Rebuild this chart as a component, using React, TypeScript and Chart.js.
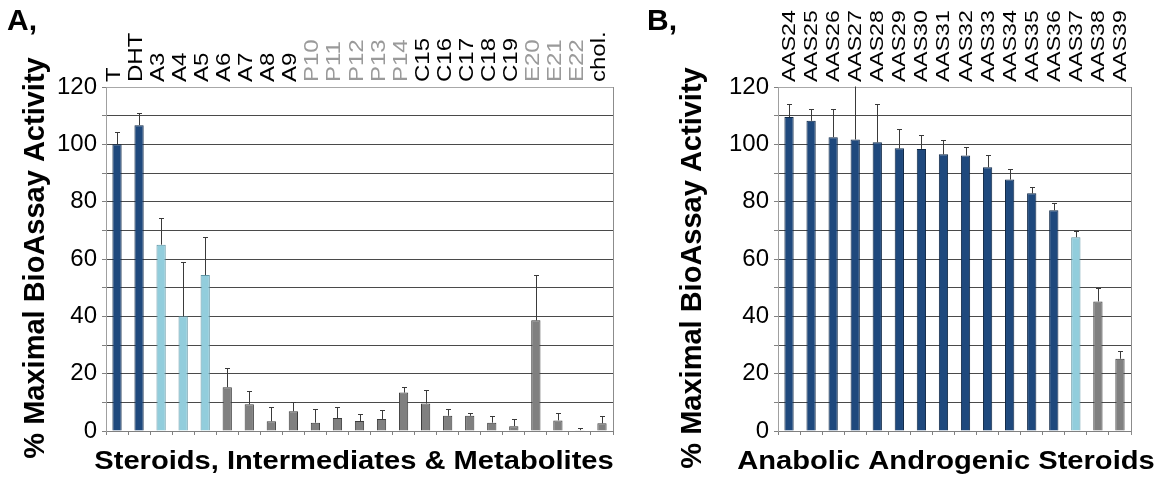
import React, { useEffect, useRef } from 'react';
import { Chart, registerables } from 'chart.js';

Chart.register(...registerables);

const FONT = "'Liberation Sans', Arial, Helvetica, sans-serif";

// ---------- Panel A data ----------
const labelsA = ['T', 'DHT', 'A3', 'A4', 'A5', 'A6', 'A7', 'A8', 'A9', 'P10', 'P11', 'P12', 'P13', 'P14', 'C15', 'C16', 'C17', 'C18', 'C19', 'E20', 'E21', 'E22', 'chol.'];
const valuesA = [100, 106.7, 65, 40, 54.4, 15.3, 9.3, 3.4, 6.9, 2.9, 4.5, 3.5, 4.2, 13.4, 9.6, 5.3, 5.3, 2.9, 1.7, 38.6, 3.7, 0.3, 2.7];
const errorsA = [4.2, 4.3, 9.4, 18.8, 13.3, 6.8, 4.8, 4.9, 3.3, 4.7, 3.8, 2.3, 3.1, 2.1, 4.6, 2.5, 0.9, 2.4, 2.5, 15.8, 2.5, 0.9, 2.6];
// 0 = reference androgen, 1 = active, 2 = other
const groupsA = [0, 0, 1, 1, 1, 2, 2, 2, 2, 2, 2, 2, 2, 2, 2, 2, 2, 2, 2, 2, 2, 2, 2];

// ---------- Panel B data ----------
const labelsB = ['AAS24', 'AAS25', 'AAS26', 'AAS27', 'AAS28', 'AAS29', 'AAS30', 'AAS31', 'AAS32', 'AAS33', 'AAS34', 'AAS35', 'AAS36', 'AAS37', 'AAS38', 'AAS39'];
const valuesB = [109.5, 108.2, 102.5, 101.7, 100.7, 98.6, 98.4, 96.5, 96.1, 92.0, 87.7, 82.9, 77.0, 67.6, 45.2, 25.2];
const errorsB = [4.4, 4.2, 9.7, 20, 13.2, 6.6, 5.0, 4.9, 3.1, 4.4, 3.8, 2.3, 2.6, 2.3, 4.6, 2.6];
const groupsB = [0, 0, 0, 0, 0, 0, 0, 0, 0, 0, 0, 0, 0, 1, 2, 2];

const yTickValues = [0, 20, 40, 60, 80, 100, 120];
const yTitle = '% Maximal BioAssay Activity';

const GROUP_FILL = ['#1f497d', '#92cddc', '#808080'];
const GROUP_BORDER = ['#0e2746', '#5e95a5', '#3c3c3c'];

type PanelCfg = {
  tag: string;
  labels: string[];
  values: number[];
  errors: number[];
  groups: number[];
  xTitle: string;
  left: number;
  width: number;
  axisWidth: number;
  padRight: number;
  labelFont: number;
  labelStretch: number;
  labelDx: number;
  yTitleX: number;
  yTitleY: number;
  xTitleCenter: number;
  borderExtend: number;
};

const panels: PanelCfg[] = [
  {
    tag: 'A,', labels: labelsA, values: valuesA, errors: errorsA, groups: groupsA,
    xTitle: 'Steroids, Intermediates & Metabolites',
    left: 0, width: 640, axisWidth: 106, padRight: 27,
    labelFont: 20, labelStretch: 1.2, labelDx: 3,
    yTitleX: 36, yTitleY: 258, xTitleCenter: 354, borderExtend: 0,
  },
  {
    tag: 'B,', labels: labelsB, values: valuesB, errors: errorsB, groups: groupsB,
    xTitle: 'Anabolic Androgenic Steroids',
    left: 640, width: 521, axisWidth: 138, padRight: 30,
    labelFont: 18, labelStretch: 1.28, labelDx: 6,
    yTitleX: 53, yTitleY: 268, xTitleCenter: 306, borderExtend: 4,
  },
];

function makeOverlay(cfg: PanelCfg) {
  return {
    id: 'overlay' + cfg.tag,
    afterDatasetsDraw(chart: any) {
      const ctx = chart.ctx as CanvasRenderingContext2D;
      const area = chart.chartArea;
      const y = chart.scales.y;
      const meta = chart.getDatasetMeta(0);
      ctx.save();
      ctx.beginPath();
      ctx.rect(area.left, area.top - 0.5, area.right - area.left, area.bottom - area.top + 1);
      ctx.clip();
      ctx.strokeStyle = '#3a3a3a';
      ctx.lineWidth = 1;
      meta.data.forEach((bar: any, i: number) => {
        const x = Math.round(bar.x) + 0.5;
        const y0 = y.getPixelForValue(cfg.values[i]);
        const y1 = Math.round(y.getPixelForValue(cfg.values[i] + cfg.errors[i])) + 0.5;
        ctx.beginPath();
        ctx.moveTo(x, y0);
        ctx.lineTo(x, y1);
        ctx.moveTo(x - 2.5, y1);
        ctx.lineTo(x + 2.5, y1);
        ctx.stroke();
      });
      ctx.restore();
    },
    afterDraw(chart: any) {
      const ctx = chart.ctx as CanvasRenderingContext2D;
      const area = chart.chartArea;
      const xs = chart.scales.x;
      ctx.save();
      // right border
      ctx.strokeStyle = '#8c8c8c';
      ctx.lineWidth = 1;
      ctx.beginPath();
      const rx = Math.round(area.right) + 0.5;
      ctx.moveTo(rx, area.top);
      ctx.lineTo(rx, area.bottom + cfg.borderExtend);
      ctx.stroke();

      // category labels above the plot, rotated
      ctx.font = `${cfg.labelFont}px ${FONT}`;
      ctx.textAlign = 'left';
      ctx.textBaseline = 'alphabetic';
      cfg.labels.forEach((lab, i) => {
        const cx = xs.getPixelForValue(i) + cfg.labelDx;
        ctx.save();
        ctx.translate(cx, area.top - 5);
        ctx.rotate(-Math.PI / 2);
        ctx.scale(cfg.labelStretch, 1);
        ctx.fillStyle = /^[PE]\d/.test(lab) ? '#9a9a9a' : '#000000';
        ctx.fillText(lab, 0, 0);
        ctx.restore();
      });

      // y axis title
      ctx.save();
      ctx.font = `bold 29px ${FONT}`;
      ctx.fillStyle = '#000';
      ctx.textAlign = 'center';
      ctx.textBaseline = 'middle';
      ctx.translate(cfg.yTitleX, cfg.yTitleY);
      ctx.rotate(-Math.PI / 2);
      ctx.fillText(yTitle, 0, 0);
      ctx.restore();

      // x axis title
      ctx.save();
      ctx.font = `bold 26px ${FONT}`;
      ctx.fillStyle = '#000';
      ctx.textAlign = 'center';
      ctx.textBaseline = 'alphabetic';
      ctx.translate(cfg.xTitleCenter, 469);
      ctx.scale(1.12, 1);
      ctx.fillText(cfg.xTitle, 0, 0);
      ctx.restore();

      // panel tag
      ctx.font = `bold 30px ${FONT}`;
      ctx.fillStyle = '#000';
      ctx.textAlign = 'left';
      ctx.textBaseline = 'alphabetic';
      ctx.fillText(cfg.tag, 7, 30);
      ctx.restore();
    },
  };
}

function Panel({ cfg }: { cfg: PanelCfg }) {
  const ref = useRef<HTMLCanvasElement>(null);
  useEffect(() => {
    const canvas = ref.current!;
    const chart = new Chart(canvas, {
      type: 'bar',
      data: {
        labels: cfg.labels,
        datasets: [
          {
            data: cfg.values,
            backgroundColor: cfg.groups.map((g) => GROUP_FILL[g]),
            borderColor: cfg.groups.map((g) => GROUP_BORDER[g]),
            borderWidth: 1,
            barPercentage: 0.42,
            categoryPercentage: 1,
          },
        ],
      },
      options: {
        responsive: false,
        animation: false,
        devicePixelRatio: 1,
        layout: { padding: { top: 87, right: cfg.padRight, left: 0, bottom: 0 } },
        plugins: {
          legend: { display: false },
          tooltip: { enabled: false },
          title: { display: false },
        },
        scales: {
          x: {
            position: 'bottom',
            offset: true,
            grid: {
              display: true,
              offset: true,
              drawOnChartArea: false,
              drawTicks: true,
              tickLength: 4,
              color: '#808080',
            },
            border: { display: true, color: '#808080' },
            ticks: { display: false },
            afterFit: (s: any) => {
              s.height = 47;
            },
          },
          y: {
            min: 0,
            max: 120,
            ticks: {
              stepSize: 10,
              autoSkip: false,
              padding: 5,
              color: '#000',
              font: { family: FONT, size: 24 },
              callback: (v: any) => (yTickValues.includes(Number(v)) ? String(v) : ''),
            },
            grid: {
              color: (c: any) => (c.tick && c.tick.value === 120 ? '#a8a8a8' : '#4a4a4a'),
              tickColor: '#808080',
              tickLength: 4,
              lineWidth: 1,
            },
            border: { display: true, color: '#a0a0a0' },
            afterFit: (s: any) => {
              s.width = cfg.axisWidth;
            },
          },
        },
      } as any,
      plugins: [makeOverlay(cfg)],
    });
    return () => chart.destroy();
  }, [cfg]);
  return (
    <canvas
      ref={ref}
      width={cfg.width}
      height={478}
      style={{ position: 'absolute', left: cfg.left, top: 0, width: cfg.width, height: 478 }}
    />
  );
}

export default function App() {
  return (
    <div style={{ position: 'absolute', left: 0, top: 0, width: 1161, height: 478, background: '#ffffff', overflow: 'hidden' }}>
      {panels.map((p) => (
        <Panel key={p.tag} cfg={p} />
      ))}
    </div>
  );
}
